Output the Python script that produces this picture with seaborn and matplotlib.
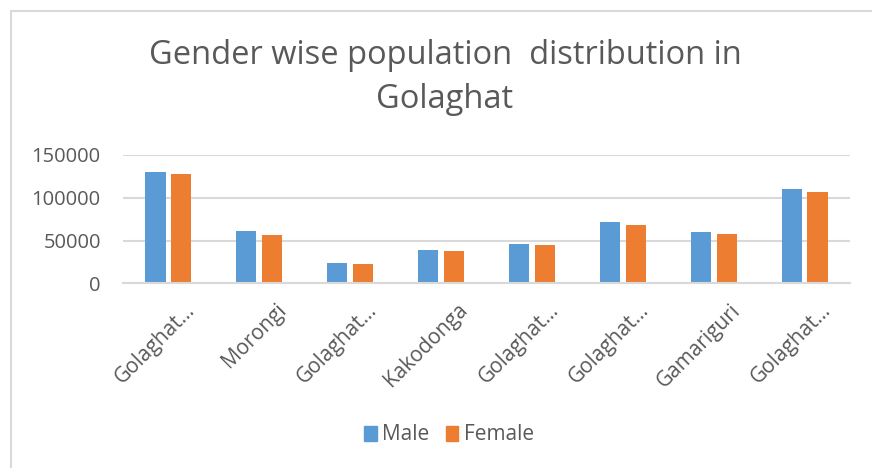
import pandas as pd
import matplotlib
matplotlib.use("Agg")
import matplotlib.pyplot as plt
import matplotlib.transforms as mtransforms
from matplotlib.patches import Rectangle
import seaborn as sns

# Données
categories = ["Golaghat 1", "Morongi", "Golaghat 2", "Kakodonga",
              "Golaghat 3", "Golaghat 4", "Gamariguri", "Golaghat 5"]
tick_labels = ["Golaghat…", "Morongi", "Golaghat…", "Kakodonga",
               "Golaghat…", "Golaghat…", "Gamariguri", "Golaghat…"]
male = [129800, 60800, 23400, 38600, 45600, 72000, 60000, 110600]
female = [127400, 56100, 22200, 37400, 44400, 68500, 57600, 106400]
series = ["Male", "Female"]
colors = ["#5B9BD5", "#ED7D31"]

df = pd.DataFrame({"cat": categories * 2,
                   "value": male + female,
                   "sex": ["Male"] * len(male) + ["Female"] * len(female)})

sns.set_theme(style="white")
plt.rcParams['font.family'] = ['Open Sans', 'DejaVu Sans']
text_color = "#595959"
grid_color = "#D9D9D9"

fig = plt.figure(figsize=(8.72, 4.68), dpi=100)
ax = fig.add_axes([123 / 872, 1 - 283.3 / 468, (850 - 123) / 872, (283.3 - 155) / 468])

sns.barplot(data=df, x="cat", y="value", hue="sex", hue_order=series,
            order=categories, palette=colors, width=0.57, gap=0.22,
            saturation=1, linewidth=0, ax=ax, legend=False)

ax.set_ylim(0, 150000)
ax.set_xlim(-0.5, len(categories) - 0.5)
ax.set_yticks([0, 50000, 100000, 150000])
ax.set_yticklabels(["0", "50000", "100000", "150000"])
ax.yaxis.grid(True, color=grid_color, linewidth=1.5)
ax.set_axisbelow(True)
for s in ["top", "right", "left"]:
    ax.spines[s].set_visible(False)
ax.spines["bottom"].set_color(grid_color)
ax.spines["bottom"].set_linewidth(1.5)
ax.set_xlabel("")
ax.set_ylabel("")
ax.tick_params(axis="y", length=0, pad=16, labelsize=14.5, labelcolor=text_color)
ax.tick_params(axis="x", length=0, pad=6, labelsize=15, labelcolor=text_color)

ax.set_xticks(range(len(categories)))
ax.set_xticklabels(tick_labels, rotation=45, ha="right", rotation_mode="anchor")
offset = mtransforms.ScaledTranslation(16 / 100, -8 / 100, fig.dpi_scale_trans)
for lab in ax.get_xticklabels():
    lab.set_transform(lab.get_transform() + offset)

fig.text(445 / 872, 1 - 55 / 468, "Gender wise population  distribution in",
         ha="center", va="center", fontsize=23.5, color=text_color)
fig.text(445 / 872, 1 - 100 / 468, "Golaghat",
         ha="center", va="center", fontsize=23.5, color=text_color)

handles = [Rectangle((0, 0), 1, 1, color=c) for c in colors]
fig.legend(handles, series, loc="center", bbox_to_anchor=(449 / 872, 1 - 435 / 468),
           ncol=2, frameon=False, handlelength=0.6, handleheight=0.7,
           handletextpad=0.25, columnspacing=0.8, fontsize=15, labelcolor=text_color)

# Cadre du graphique (coin haut-gauche visible)
fig.add_artist(Rectangle((11 / 872, -0.1), 1.2, 1 - 11 / 468 + 0.1,
                         transform=fig.transFigure, fill=False,
                         edgecolor=grid_color, linewidth=1.5))

fig.savefig("out.png", dpi=100)
